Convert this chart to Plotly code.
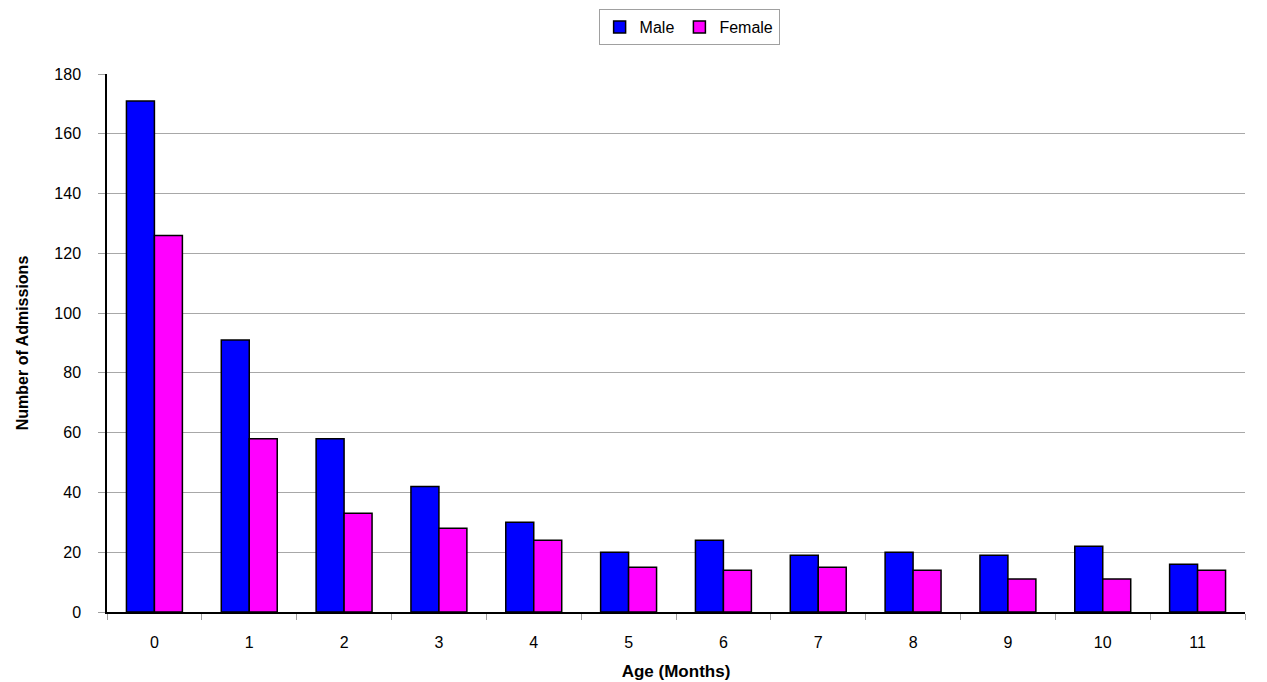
import plotly.graph_objects as go

ages = ["0", "1", "2", "3", "4", "5", "6", "7", "8", "9", "10", "11"]
male = [171, 91, 58, 42, 30, 20, 24, 19, 20, 19, 22, 16]
female = [126, 58, 33, 28, 24, 15, 14, 15, 14, 11, 11, 14]

fig = go.Figure()
fig.add_bar(x=ages, y=male, name="Male", marker=dict(color="#0000FF", line=dict(color="#000000", width=1.5)))
fig.add_bar(x=ages, y=female, name="Female", marker=dict(color="#FF00FF", line=dict(color="#000000", width=1.5)))

fig.update_layout(
    width=1259, height=674,
    margin=dict(l=99, r=22, t=66, b=70, autoexpand=False),
    paper_bgcolor="white", plot_bgcolor="white",
    font=dict(family="Liberation Sans, Arial, sans-serif", size=16, color="#000000"),
    barmode="group", bargap=0.41, bargroupgap=0,
    showlegend=True,
    legend=dict(orientation="h", xref="container", yref="container",
                x=0.541, xanchor="center", y=0.9985, yanchor="top",
                bordercolor="#a0a0a0", borderwidth=1, font=dict(size=16),
                itemwidth=30, tracegroupgap=0),
    xaxis=dict(type="category", tickson="boundaries", ticks="outside", ticklen=6,
               tickcolor="#a0a0a0", showline=True, linecolor="#000000", linewidth=1.5,
               showgrid=False, ticklabelstandoff=15, automargin=False,
               title=dict(text="<b>Age (Months)</b>", font=dict(size=17), standoff=15)),
    yaxis=dict(range=[0, 180], dtick=20, ticks="outside", ticklen=7, tickcolor="#a0a0a0",
               showline=True, linecolor="#000000", linewidth=1.5, ticklabelstandoff=14,
               showgrid=True, gridcolor="#a8a8a8", gridwidth=1, zeroline=False,
               automargin=False,
               title=dict(text="<b>Number of Admissions</b>", font=dict(size=16), standoff=22)),
)

fig.write_html("out.html")
